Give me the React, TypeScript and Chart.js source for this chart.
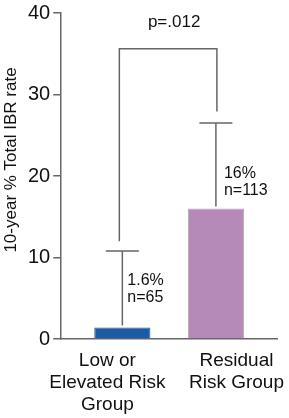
import React, { useEffect, useRef } from "react";
import { Chart, registerables } from "chart.js";

Chart.register(...registerables);

const categories: string[][] = [["Low or", "Elevated Risk", "Group"], ["Residual", "Risk Group"]];
const barPositions = [0, 1];
const labelPositions = [-0.16, 1.22];
const rates = [1.4, 16];
const errorUpper = [10.8, 26.5];
const pctLabels = ["1.6%", "16%"];
const nLabels = ["n=65", "n=113"];
const labelAnchors = [6.1, 19.3];
const bracketY = 35.6;
const bracketLegEnds = [12.0, 27.9];
const pValueText = "p=.012";
const yTicks = [0, 10, 20, 30, 40];
const yTitle = "10-year % Total IBR rate";

const FONT = "'Liberation Sans', Arial, Helvetica, sans-serif";
const LINE = "#666666";
const TEXT = "#111111";

const annotations = {
  id: "annotations",
  afterDatasetsDraw(chart: any) {
    const { ctx, scales } = chart;
    const xs = scales.x;
    const ys = scales.y;
    ctx.save();
    ctx.strokeStyle = LINE;
    ctx.lineWidth = 1.5;
    // error bars
    barPositions.forEach((p, i) => {
      const x = xs.getPixelForValue(p);
      const yb = ys.getPixelForValue(rates[i]);
      const yt = ys.getPixelForValue(errorUpper[i]);
      ctx.beginPath();
      ctx.moveTo(x, yb - 2);
      ctx.lineTo(x, yt);
      ctx.moveTo(x - 16.5, yt);
      ctx.lineTo(x + 16.5, yt);
      ctx.stroke();
    });
    // bracket
    const x0 = xs.getPixelForValue(barPositions[0]) - 3;
    const x1 = xs.getPixelForValue(barPositions[1]) + 1;
    const yTop = ys.getPixelForValue(bracketY);
    ctx.beginPath();
    ctx.moveTo(x0, ys.getPixelForValue(bracketLegEnds[0]));
    ctx.lineTo(x0, yTop);
    ctx.lineTo(x1, yTop);
    ctx.lineTo(x1, ys.getPixelForValue(bracketLegEnds[1]));
    ctx.stroke();
    // value labels
    ctx.fillStyle = TEXT;
    ctx.font = `16px ${FONT}`;
    ctx.textAlign = "left";
    ctx.textBaseline = "middle";
    barPositions.forEach((p, i) => {
      const x = xs.getPixelForValue(p) + (i === 0 ? 5 : 8);
      const yc = ys.getPixelForValue(labelAnchors[i]);
      ctx.fillText(pctLabels[i], x, yc - 8.5);
      ctx.fillText(nLabels[i], x, yc + 8.5);
    });
    // p value
    ctx.font = `17px ${FONT}`;
    ctx.textAlign = "center";
    ctx.fillText(pValueText, (x0 + x1) / 2 + 6, yTop - 27);
    // y title
    ctx.translate(11, 160);
    ctx.rotate(-Math.PI / 2);
    ctx.fillText(yTitle, 0, 0);
    ctx.restore();
  },
};

export default function App() {
  const ref = useRef<HTMLCanvasElement>(null);
  useEffect(() => {
    document.body.style.margin = "0";
    const chart = new Chart(ref.current!, {
      type: "bar",
      data: {
        datasets: [
          {
            data: barPositions.map((p, i) => ({ x: p, y: rates[i] })),
            backgroundColor: ["#1b5ca8", "#b58ab8"],
            borderColor: ["#1b5ca8", "#c59cc6"],
            borderWidth: 1,
            categoryPercentage: 1,
            barPercentage: 0.6,
          },
        ],
      },
      plugins: [annotations],
      options: {
        animation: false,
        responsive: false,
        layout: { padding: { left: 25, right: 12, top: 0, bottom: -9 } },
        plugins: { legend: { display: false }, tooltip: { enabled: false } },
        scales: {
          x: {
            type: "linear",
            offset: false,
            min: -0.653,
            max: 1.653,
            grid: { display: false, offset: false, drawTicks: false, tickLength: 0 },
            border: { display: true, color: LINE, width: 1.5 },
            afterBuildTicks: (scale: any) => {
              scale.ticks = labelPositions.map((v) => ({ value: v }));
            },
            afterFit: (scale: any) => {
              scale.paddingLeft = 0;
              scale.paddingRight = 0;
            },
            ticks: {
              autoSkip: false,
              maxRotation: 0,
              padding: 11,
              color: TEXT,
              font: { family: FONT, size: 19, lineHeight: 22 / 19 },
              callback: (value: any) => {
                const idx = labelPositions.indexOf(Number(value));
                return idx >= 0 ? categories[idx] : "";
              },
            },
          },
          y: {
            min: 0,
            max: 40,
            afterBuildTicks: (scale: any) => {
              scale.ticks = yTicks.map((v) => ({ value: v }));
            },
            grid: { display: true, drawOnChartArea: false, drawTicks: true, tickLength: 8, color: LINE, lineWidth: 1.5 },
            border: { display: true, color: LINE, width: 1.5 },
            ticks: {
              padding: 3,
              color: TEXT,
              font: { family: FONT, size: 20, lineHeight: 1 },
            },
          },
        },
      },
    } as any);
    return () => chart.destroy();
  }, []);
  return <canvas ref={ref} width={289} height={418} style={{ display: "block", width: 289, height: 418 }} />;
}
